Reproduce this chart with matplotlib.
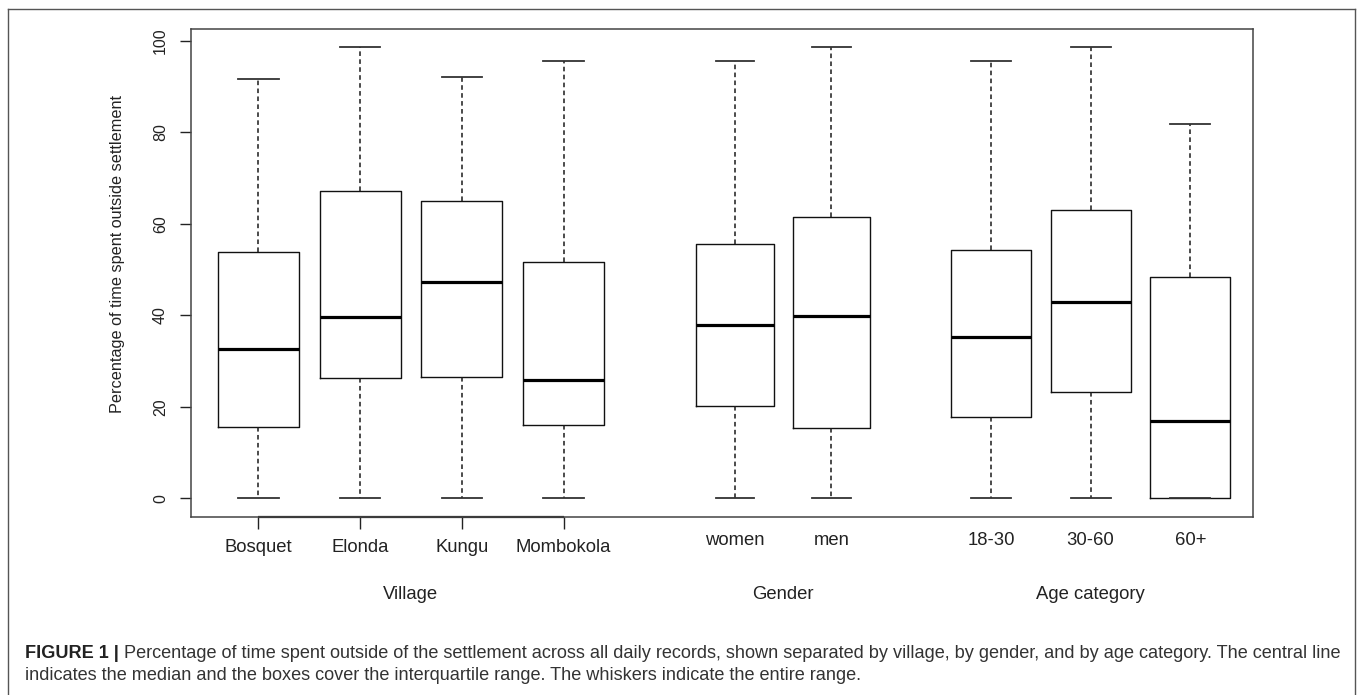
import matplotlib
matplotlib.use('Agg')
import matplotlib.pyplot as plt
from matplotlib.lines import Line2D

plt.rcParams['font.family'] = ['Liberation Sans', 'DejaVu Sans']

# values (percent of time outside settlement)
categories = ['Bosquet', 'Elonda', 'Kungu', 'Mombokola', 'women', 'men', '18-30', '30-60', '60+']
minimum = [0, 0, 0, 0, 0, 0, 0, 0, 0]
q1 = [15.5, 26.3, 26.5, 16.1, 20.3, 15.4, 17.7, 23.2, 0.0]
median = [32.6, 39.6, 47.4, 25.9, 38.0, 39.8, 35.2, 43.0, 17.0]
q3 = [53.9, 67.2, 65.1, 51.6, 55.7, 61.6, 54.2, 63.0, 48.5]
maximum = [91.7, 98.7, 92.1, 95.6, 95.6, 98.6, 95.6, 98.6, 81.8]

groups = ['Village', 'Gender', 'Age category']
yticks = [0, 20, 40, 60, 80, 100]

# layout
positions = [1.0, 2.0, 3.0, 4.0, 5.686, 6.633, 8.202, 9.181, 10.163]
widths = [0.796, 0.796, 0.796, 0.796, 0.762, 0.762, 0.786, 0.786, 0.786]
group_x = [2.5, 6.16, 9.181]

W, H = 1358, 695
fig = plt.figure(figsize=(W / 100, H / 100), dpi=100)
ax = fig.add_axes([191 / W, 1 - 516.7 / H, 1062 / W, 487.7 / H])

stats = []
for i, c in enumerate(categories):
    stats.append(dict(label=c, whislo=minimum[i], q1=q1[i], med=median[i],
                      q3=q3[i], whishi=maximum[i], fliers=[]))

ax.bxp(stats, positions=positions, widths=widths,
       capwidths=[w / 2 for w in widths], showfliers=False,
       boxprops=dict(color='#111111', linewidth=1.0),
       medianprops=dict(color='black', linewidth=2.3, solid_capstyle='butt'),
       whiskerprops=dict(color='#1a1a1a', linewidth=1.1, linestyle=(0, (3.0, 2.2))),
       capprops=dict(color='#333333', linewidth=1.3))

ax.set_xlim(0.338, 10.778)
ax.set_ylim(-4.0, 102.6)

for s in ax.spines.values():
    s.set_color('#444444')
    s.set_linewidth(1.1)

ax.set_yticks(yticks)
ax.set_yticklabels([str(v) for v in yticks], rotation=90, va='center', fontsize=11.5)
ax.tick_params(axis='y', direction='out', length=8, width=1.0, pad=8.5, colors='#222222')

ax.set_xticks(positions[:4])
ax.set_xticklabels(categories[:4], fontsize=13.3)
ax.tick_params(axis='x', direction='out', length=8.4, width=1.0, pad=8, colors='#222222')

# R axis line along the first group
ax.plot([positions[0], positions[3]], [-4.0, -4.0], color='#222222', lw=1.6,
        clip_on=False, solid_capstyle='butt')

tr = ax.get_xaxis_transform()
for i in range(4, len(categories)):
    ax.text(positions[i], -0.0478, categories[i], transform=tr, ha='center',
            va='center', fontsize=13.3, color='#222222')
for g, gx in zip(groups, group_x):
    ax.text(gx, -0.16, g, transform=tr, ha='center', va='center',
            fontsize=13.3, color='#222222')

fig.text(118 / W, 1 - 254 / H, 'Percentage of time spent outside settlement',
         rotation=90, ha='center', va='center', fontsize=11.7, color='#222222')

# outer frame of the figure panel
frame = dict(color='#555555', lw=1.0, transform=fig.transFigure)
fig.add_artist(Line2D([8 / W, 8 / W], [0, 1 - 9 / H], **frame))
fig.add_artist(Line2D([1355 / W, 1355 / W], [0, 1 - 9 / H], **frame))
fig.add_artist(Line2D([8 / W, 1355 / W], [1 - 9 / H, 1 - 9 / H], **frame))

# caption
cap_size = 13.1
t1 = fig.text(25 / W, 1 - 653 / H, 'FIGURE 1 |', fontsize=cap_size,
              weight='bold', va='center', color='#222222')
ax.annotate('Percentage of time spent outside of the settlement across all daily records, '
            'shown separated by village, by gender, and by age category. The central line',
            xy=(1, 0), xycoords=t1, xytext=(3.5, 0), textcoords='offset points',
            va='bottom', ha='left', fontsize=cap_size, color='#333333',
            annotation_clip=False)
fig.text(25 / W, 1 - 675 / H,
         'indicates the median and the boxes cover the interquartile range. '
         'The whiskers indicate the entire range.',
         fontsize=cap_size, va='center', color='#333333')

fig.savefig('out.png', dpi=100)
